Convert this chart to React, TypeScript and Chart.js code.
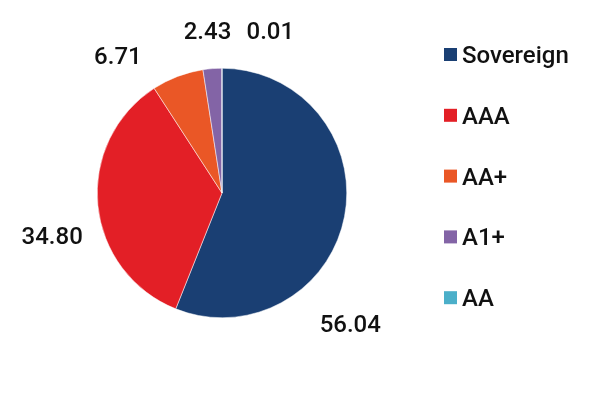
import React, { useEffect, useRef } from "react";
import { Chart, registerables } from "chart.js";

Chart.register(...registerables);

const categories = ["Sovereign", "AAA", "AA+", "A1+", "AA"];
const values = [56.04, 34.8, 6.71, 2.43, 0.01];
const colors = ["#1A3F73", "#E31F26", "#EA5726", "#8364A6", "#4BAFC9"];

// label placement tweaks (style only): angular shift in degrees and gap beyond the pie edge
const labelAngleShift = [34.7, -8.6, -16.2, -0.7, 16.6];
const labelGap = [58.5, 50.4, 48, 38, 44.6];

const FONT = "Roboto, 'Noto Sans', sans-serif";
const FONT_SIZE = 24;
const CAP_HALF = 0.355 * FONT_SIZE;

const extrasPlugin = {
  id: "pieExtras",
  afterDatasetsDraw(chart: any) {
    const ctx = chart.ctx;
    const meta = chart.getDatasetMeta(0);
    ctx.save();
    ctx.font = `500 ${FONT_SIZE}px ${FONT}`;
    ctx.fillStyle = "#111111";
    ctx.textAlign = "center";
    ctx.textBaseline = "alphabetic";
    meta.data.forEach((arc: any, i: number) => {
      const p = arc.getProps(["x", "y", "startAngle", "endAngle", "outerRadius"], true);
      const mid = (p.startAngle + p.endAngle) / 2 + (labelAngleShift[i] * Math.PI) / 180;
      const r = p.outerRadius + labelGap[i];
      ctx.fillText(values[i].toFixed(2), p.x + Math.cos(mid) * r, p.y + Math.sin(mid) * r + CAP_HALF);
    });

    // legend
    const boxX = 444;
    const box = 13;
    const firstY = 54.5;
    const step = 60.8;
    ctx.textAlign = "left";
    categories.forEach((c, i) => {
      const cy = firstY + step * i;
      ctx.fillStyle = colors[i];
      ctx.fillRect(boxX, cy - box / 2, box, box);
      ctx.fillStyle = "#111111";
      ctx.fillText(c, boxX + box + 5, cy + CAP_HALF);
    });
    ctx.restore();
  },
};

export default function App() {
  const ref = useRef<HTMLCanvasElement>(null);
  useEffect(() => {
    if (!ref.current) return;
    const chart = new Chart(ref.current, {
      type: "pie",
      data: {
        labels: categories,
        datasets: [
          {
            data: values,
            backgroundColor: colors,
            borderColor: "#ffffff",
            borderWidth: 0.5,
          },
        ],
      },
      options: {
        responsive: false,
        animation: false,
        layout: { padding: { left: 97, right: 248, top: 68, bottom: 75 } },
        plugins: {
          legend: { display: false },
          tooltip: { enabled: false },
        },
      },
      plugins: [extrasPlugin],
    });
    return () => chart.destroy();
  }, []);
  return (
    <div style={{ position: "fixed", left: 0, top: 0, width: 595, height: 393, background: "#fff" }}>
      <canvas ref={ref} width={595} height={393} />
    </div>
  );
}
